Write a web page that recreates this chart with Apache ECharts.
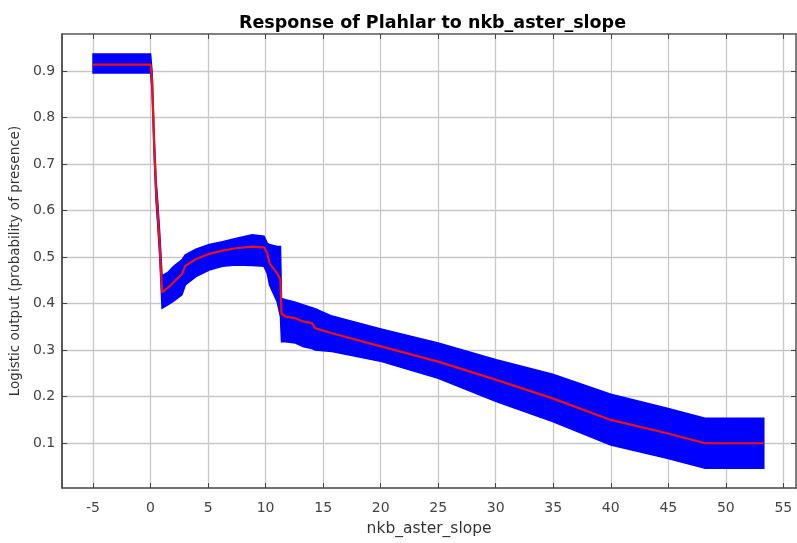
<!DOCTYPE html>
<html>
<head>
<meta charset="utf-8">
<script src="https://cdn.jsdelivr.net/npm/echarts@6/dist/echarts.min.js"></script>
<style>html,body{margin:0;padding:0;background:#fff}#c{width:797px;height:543px}</style>
</head>
<body>
<div id="c"></div>
<script>
const titleText = 'Response of Plahlar to nkb_aster_slope';
const xName = 'nkb_aster_slope';
const yName = 'Logistic output (probability of presence)';
const xTicks = [-5, 0, 5, 10, 15, 20, 25, 30, 35, 40, 45, 50, 55];
const yTicks = [0.1, 0.2, 0.3, 0.4, 0.5, 0.6, 0.7, 0.8, 0.9];
const xVals = [-5, -2.5, 0, 0.13, 0.33, 0.48, 0.62, 0.8, 1.0, 1.5, 2.0, 2.73, 3.02, 3.94, 5.1, 6.25, 7.4, 8.84, 9.86, 10.14, 10.34, 11.0, 11.29, 11.38, 11.73, 12.59, 13.3, 14.04, 14.3, 15.77, 20.1, 25.0, 30.05, 34.95, 40.0, 44.9, 48.2, 53.3];
const meanVals = [0.914, 0.914, 0.914, 0.88, 0.73, 0.645, 0.595, 0.523, 0.424, 0.434, 0.446, 0.4635, 0.481, 0.4955, 0.507, 0.514, 0.519, 0.5226, 0.521, 0.508, 0.487, 0.465, 0.451, 0.379, 0.372, 0.3685, 0.361, 0.3577, 0.347, 0.336, 0.3074, 0.275, 0.2357, 0.196, 0.1496, 0.121, 0.0994, 0.0994];
const upperVals = [0.937, 0.937, 0.937, 0.90, 0.75, 0.665, 0.62, 0.55, 0.46, 0.467, 0.48, 0.494, 0.505, 0.517, 0.527, 0.533, 0.54, 0.548, 0.545, 0.53, 0.527, 0.523, 0.523, 0.411, 0.408, 0.403, 0.397, 0.391, 0.389, 0.373, 0.345, 0.315, 0.279, 0.248, 0.205, 0.175, 0.153, 0.153];
const lowerVals = [0.896, 0.896, 0.896, 0.86, 0.71, 0.62, 0.57, 0.50, 0.39, 0.397, 0.405, 0.419, 0.44, 0.458, 0.472, 0.48, 0.483, 0.482, 0.48, 0.465, 0.44, 0.404, 0.372, 0.318, 0.318, 0.315, 0.307, 0.303, 0.30, 0.297, 0.275, 0.239, 0.189, 0.146, 0.0958, 0.067, 0.0456, 0.0456];

const FONT = 'DejaVu Sans';
const chart = echarts.init(document.getElementById('c'), null, {renderer: 'canvas'});
const xMin = -7.683, xMax = 56.1, yMin = 0.0031, yMax = 0.980;
const bandData = xVals.map((x, i) => [x, lowerVals[i], upperVals[i]]);
const meanData = xVals.map((x, i) => [x, meanVals[i]]);

function renderBand(params, api) {
  if (params.dataIndex !== 0) return null;
  const top = bandData.map(d => api.coord([d[0], d[2]]));
  const bottom = bandData.slice().reverse().map(d => api.coord([d[0], d[1]]));
  return {
    type: 'polygon',
    shape: {points: top.concat(bottom)},
    style: {fill: '#0000ff', stroke: '#0000ff', lineWidth: 1.5, lineJoin: 'miter'}
  };
}

chart.setOption({
  animation: false,
  backgroundColor: '#ffffff',
  title: {
    text: titleText, left: 427.5, top: 9, textAlign: 'center',
    textStyle: {fontFamily: FONT, fontWeight: 'bold', fontSize: 17.5, color: '#000'}
  },
  grid: {left: 59, right: 1, top: 34, bottom: 55, containLabel: false},
  xAxis: [{
    type: 'value', min: xMin, max: xMax, position: 'bottom',
    name: xName, nameLocation: 'middle', nameGap: 33,
    nameTextStyle: {fontFamily: FONT, fontSize: 15.5, color: '#333'},
    axisLine: {show: true, onZero: false, lineStyle: {color: '#444', width: 1.5}},
    axisTick: {show: true, inside: true, length: 5, customValues: xTicks, lineStyle: {color: '#444'}},
    axisLabel: {show: true, customValues: xTicks, margin: 13, fontFamily: FONT, fontSize: 14, color: '#444'},
    splitLine: {show: true, customValues: xTicks, lineStyle: {color: '#c8c8c8', width: 1.3}}
  }, {
    type: 'value', min: xMin, max: xMax, position: 'top',
    axisLine: {show: true, onZero: false, lineStyle: {color: '#555', width: 1.5}},
    axisTick: {show: true, inside: true, length: 5, customValues: xTicks, lineStyle: {color: '#444'}},
    axisLabel: {show: false}, splitLine: {show: false}
  }],
  yAxis: [{
    type: 'value', min: yMin, max: yMax, position: 'left',
    name: yName, nameLocation: 'middle', nameGap: 34,
    nameTextStyle: {fontFamily: FONT, fontSize: 13.5, color: '#333'},
    axisLine: {show: true, onZero: false, lineStyle: {color: '#222', width: 1.5}},
    axisTick: {show: true, inside: true, length: 5, customValues: yTicks, lineStyle: {color: '#444'}},
    axisLabel: {show: true, customValues: yTicks, margin: 7, fontFamily: FONT, fontSize: 14, color: '#444',
      formatter: v => v.toFixed(1)},
    splitLine: {show: true, customValues: yTicks, lineStyle: {color: '#c8c8c8', width: 1.3}}
  }, {
    type: 'value', min: yMin, max: yMax, position: 'right',
    axisLine: {show: true, onZero: false, lineStyle: {color: '#555', width: 1.5}},
    axisTick: {show: true, inside: true, length: 5, customValues: yTicks, lineStyle: {color: '#444'}},
    axisLabel: {show: false}, splitLine: {show: false}
  }],
  series: [{
    name: 'band', type: 'custom', renderItem: renderBand, data: bandData,
    encode: {x: 0, y: [1, 2]}, silent: true, z: 1
  }, {
    name: 'mean', type: 'line', data: meanData, symbol: 'none', z: 2,
    lineStyle: {color: '#ee1111', width: 2.2}, silent: true
  }]
});
</script>
</body>
</html>
